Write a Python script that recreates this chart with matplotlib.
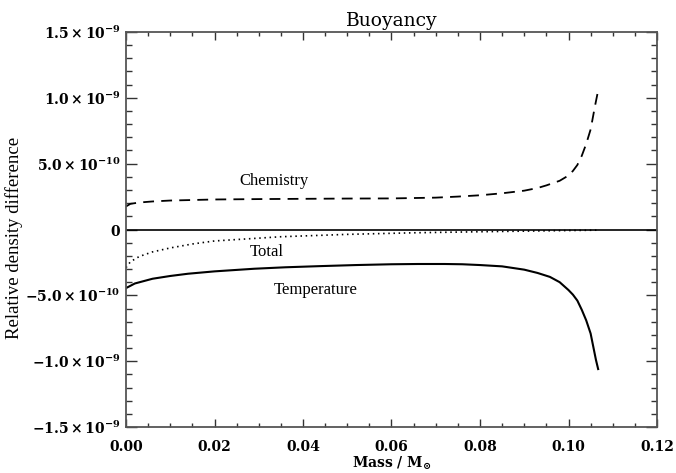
import matplotlib
matplotlib.use('Agg')
import matplotlib.pyplot as plt
from matplotlib.ticker import MultipleLocator

plt.rcParams['mathtext.fontset'] = 'dejavuserif'
plt.rcParams['mathtext.default'] = 'bf'

# Chemistry (dashed), values in units of 1e-10
chem_x = [0.0, 0.001, 0.003, 0.006, 0.01, 0.02, 0.03, 0.04, 0.05, 0.06, 0.07, 0.075,
          0.08, 0.085, 0.09, 0.093, 0.095, 0.098, 0.1, 0.101, 0.102, 0.103, 0.104,
          0.105, 0.1055, 0.106, 0.1066]
chem_y = [1.75, 1.95, 2.05, 2.13, 2.2, 2.28, 2.31, 2.33, 2.35, 2.36, 2.42, 2.5,
          2.6, 2.75, 2.95, 3.15, 3.35, 3.7, 4.1, 4.45, 4.9, 5.6, 6.5,
          7.6, 8.5, 9.4, 10.4]

# Total (dotted)
tot_x = [0.0, 0.001, 0.003, 0.006, 0.01, 0.015, 0.02, 0.035, 0.05, 0.065, 0.08, 0.095, 0.1066]
tot_y = [-2.9, -2.45, -2.05, -1.7, -1.4, -1.1, -0.87, -0.55, -0.37, -0.25, -0.17, -0.1, -0.05]

# Temperature (solid)
temp_x = [0.0, 0.002, 0.006, 0.01, 0.014, 0.02, 0.029, 0.036, 0.044, 0.052, 0.06, 0.066,
          0.072, 0.076, 0.08, 0.085, 0.09, 0.093, 0.0958, 0.098, 0.1, 0.101, 0.102,
          0.103, 0.104, 0.105, 0.1056, 0.1062, 0.1067]
temp_y = [-4.45, -4.1, -3.74, -3.53, -3.36, -3.18, -2.98, -2.87, -2.78, -2.7, -2.64, -2.62,
          -2.62, -2.64, -2.7, -2.8, -3.05, -3.3, -3.6, -4.0, -4.6, -4.95, -5.4,
          -6.1, -6.9, -7.9, -8.9, -9.9, -10.6]

yticks = [-1.5e-9, -1.0e-9, -5.0e-10, 0, 5.0e-10, 1.0e-9, 1.5e-9]
ytick_labels = [r'$-1.5\times10^{-9}$', r'$-1.0\times10^{-9}$', r'$-5.0\times10^{-10}$', r'$0$',
                r'$5.0\times10^{-10}$', r'$1.0\times10^{-9}$', r'$1.5\times10^{-9}$']
xticks = [0.0, 0.02, 0.04, 0.06, 0.08, 0.10, 0.12]
xtick_labels = ['0.00', '0.02', '0.04', '0.06', '0.08', '0.10', '0.12']

fig = plt.figure(figsize=(6.76, 4.73), dpi=100)
ax = fig.add_axes([126 / 676, 1 - 427 / 473, (657 - 126) / 676, (427 - 32) / 473])

ax.axhline(0, color='black', lw=1.2)
ax.plot(chem_x, [v * 1e-10 for v in chem_y], color='black', lw=1.3, dashes=(6, 4))
ax.plot(tot_x, [v * 1e-10 for v in tot_y], color='black', lw=1.2, dashes=(0.9, 2.2))
ax.plot(temp_x, [v * 1e-10 for v in temp_y], color='black', lw=1.5)

ax.set_xlim(0, 0.12)
ax.set_ylim(-1.5e-9, 1.5e-9)
ax.set_xticks(xticks)
ax.set_xticklabels(xtick_labels, fontsize=10, family='DejaVu Serif', fontweight='bold')
ax.set_yticks(yticks)
ax.set_yticklabels(ytick_labels, fontsize=10)
ax.xaxis.set_minor_locator(MultipleLocator(0.005))
ax.yaxis.set_minor_locator(MultipleLocator(1e-10))
ax.tick_params(axis='both', which='both', direction='in', top=True, right=True, color='#333333')
ax.tick_params(axis='y', which='major', length=8, width=1, pad=4)
ax.tick_params(axis='y', which='minor', length=4, width=1)
ax.tick_params(axis='x', which='major', length=6, width=1, pad=9)
ax.tick_params(axis='x', which='minor', length=3, width=1)
for s in ax.spines.values():
    s.set_color('#555555')
    s.set_linewidth(1.3)

ax.text(0.0335, 3.7e-10, 'Chemistry', fontsize=12, family='Liberation Serif', ha='center', va='center')
ax.text(0.0318, -1.7e-10, 'Total', fontsize=12, family='Liberation Serif', ha='center', va='center')
ax.text(0.0429, -4.6e-10, 'Temperature', fontsize=12, family='Liberation Serif', ha='center', va='center')

ax.set_title('Buoyancy', fontsize=13.5, family='DejaVu Serif', pad=4)
ax.set_xlabel(r'Mass / M$_{\odot}$', fontsize=10, family='DejaVu Serif', fontweight='bold', va='top')
ax.xaxis.set_label_coords(0.5, -0.07)
ax.set_ylabel('Relative density difference', fontsize=13.5, family='Liberation Serif')
ax.yaxis.set_label_coords(-0.194, 0.478)

fig.savefig('out.png', dpi=100)
